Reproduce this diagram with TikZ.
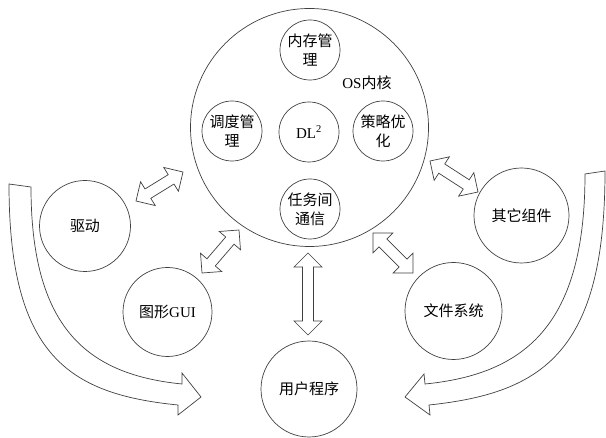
\documentclass[tikz,border=0pt]{standalone}
\usepackage{fontspec}
\setmainfont{Liberation Serif}
\newfontfamily\cjk{Noto Sans CJK SC}
\usetikzlibrary{calc}
\tikzset{
  ln/.style={draw=black!75, line width=0.7pt},
  ring/.style={ln, circle, inner sep=0pt, align=center,
    font=\cjk\fontsize{15}{19}\selectfont},
  smallring/.style={ring, minimum size=60pt},
  darrowstyle/.style={ln, fill=white, line join=miter},
  bigarrow/.style={ln, fill=white, line join=miter},
}
\newcommand{\dblarr}[2]{%
  \draw[darrowstyle] (#1)
  -- ($(#1)!14pt!(#2)!14pt!90:(#2)$)
  -- ($(#1)!14pt!(#2)!5.5pt!90:(#2)$)
  -- ($(#2)!14pt!(#1)!5.5pt!-90:(#1)$)
  -- ($(#2)!14pt!(#1)!14pt!-90:(#1)$)
  -- (#2)
  -- ($(#2)!14pt!(#1)!14pt!90:(#1)$)
  -- ($(#2)!14pt!(#1)!5.5pt!90:(#1)$)
  -- ($(#1)!14pt!(#2)!5.5pt!-90:(#2)$)
  -- ($(#1)!14pt!(#2)!14pt!-90:(#2)$)
  -- cycle;}
\begin{document}
\begin{tikzpicture}[x=1pt,y=-1pt]
\useasboundingbox (0,0) rectangle (606,438);
% kernel
\node[ring, minimum size=238pt] (os) at (309.5,127.5) {};
\node[smallring] (mem) at (310,50) {内存管\\理};
\node[smallring] (dl) at (309,132) {\rmfamily DL\textsuperscript{2}};
\node[smallring] (sched) at (232,131) {调度管\\理};
\node[smallring] (strat) at (383,131) {策略优\\化};
\node[smallring] (ipc) at (310,209) {任务间\\通信};
\node[font=\cjk\fontsize{15}{19}\selectfont] (oslabel) at (367,83) {{\rmfamily OS}内核};
% outer components
\node[ring, minimum size=91pt] (drv) at (85,226) {驱动};
\node[ring, minimum size=89pt] (gui) at (167.5,312) {图形{\rmfamily GUI}};
\node[ring, minimum size=95pt] (other) at (521.5,215.5) {其它组件};
\node[ring, minimum size=97pt] (fs) at (453.5,311) {文件系统};
\node[ring, minimum size=96pt] (user) at (309,389) {用户程序};
% double arrows
\coordinate (a1s) at (136,201); \coordinate (a1e) at (183,172);
\coordinate (a2s) at (202,273); \coordinate (a2e) at (239,230);
\coordinate (a3s) at (430,161); \coordinate (a3e) at (478,192);
\coordinate (a4s) at (373,233); \coordinate (a4e) at (413,273);
\coordinate (a5s) at (308,253); \coordinate (a5e) at (308,335);
\dblarr{a1s}{a1e}
\dblarr{a2s}{a2e}
\dblarr{a3s}{a3e}
\dblarr{a4s}{a4e}
\dblarr{a5s}{a5e}
% big curved arrows
\draw[bigarrow] (9,184) .. controls (9,355) and (68,394) .. (178,405)
  -- (178,415) -- (201,397) -- (182,373) -- (182,384)
  .. controls (87,374.5) and (31,328) .. (31,187) -- cycle;
\draw[bigarrow] (605,171) .. controls (605,352) and (543,393) .. (429,405)
  -- (430,415) -- (405,397) -- (424,374) -- (425,384)
  .. controls (526,374) and (585,324) .. (585,174) -- cycle;
\end{tikzpicture}
\end{document}
